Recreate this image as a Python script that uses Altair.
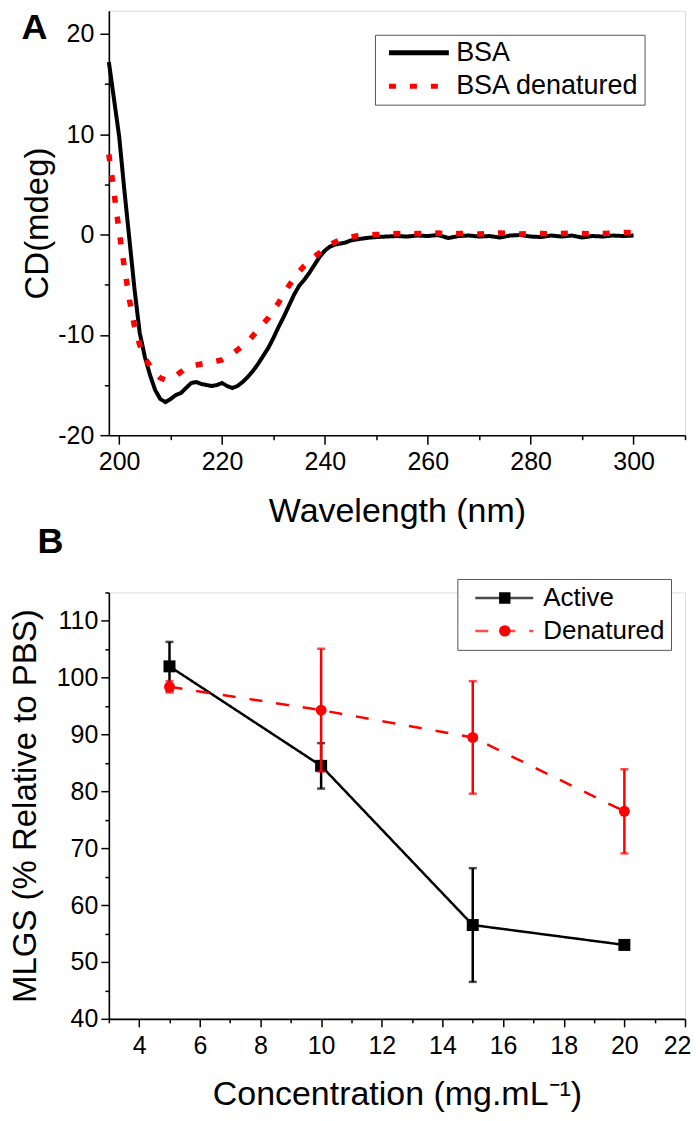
import altair as alt
import pandas as pd

FONT = "Liberation Sans"

# ---------------- Panel A : CD spectra ----------------
wavelength = list(range(198, 247)) + list(range(248, 301, 2))
cd_bsa = [
    17.2, 13.5, 9.8, 4.5, -0.5, -5.5, -9.8, -12.2, -14.0, -15.5,
    -16.4, -16.7, -16.4, -16.0, -15.8, -15.3, -14.8, -14.7, -14.9, -15.0,
    -15.1, -15.0, -14.8, -15.1, -15.3, -15.1, -14.7, -14.2, -13.6, -12.9,
    -12.1, -11.3, -10.3, -9.2, -8.2, -7.1, -6.0, -5.1, -4.5, -3.8,
    -3.0, -2.2, -1.6, -1.2, -1.0, -0.9, -0.8, -0.6, -0.5,
    -0.35, -0.25, -0.2, -0.15, -0.2, -0.1, -0.15, -0.05, -0.35, -0.15,
    -0.1, -0.2, -0.15, -0.3, -0.1, -0.05, -0.2, -0.25, -0.1, -0.2,
    -0.1, -0.3, -0.15, -0.2, -0.1, -0.15, -0.1,
]
cd_bsa_denatured = [
    8.0, 4.2, 0.3, -3.2, -6.5, -9.2, -11.0, -12.3, -13.1, -13.8,
    -14.3, -14.5, -14.4, -14.1, -13.7, -13.3, -13.1, -13.0, -12.9, -12.8,
    -12.7, -12.6, -12.5, -12.2, -11.9, -11.5, -11.1, -10.7, -10.1, -9.5,
    -8.9, -8.3, -7.5, -6.8, -5.9, -5.1, -4.4, -3.7, -3.1, -2.6,
    -2.2, -1.8, -1.4, -1.0, -0.75, -0.55, -0.4, -0.25, -0.15,
    -0.05, 0.0, 0.05, 0.1, 0.05, 0.1, 0.1, 0.15, 0.05, 0.1,
    0.1, 0.05, 0.1, 0.15, 0.1, 0.05, 0.1, 0.1, 0.05, 0.1,
    0.15, 0.1, 0.05, 0.1, 0.15, 0.2, 0.2,
]
series_a = ["BSA", "BSA denatured"]

# ---------------- Panel B : MLGS vs concentration ----------------
concentration = [5, 10, 15, 20]
active_mean = [102.0, 84.5, 56.5, 53.0]
active_err = [4.3, 4.0, 10.0, 0.6]
denatured_mean = [98.4, 94.3, 89.5, 76.5]
denatured_err = [1.0, 10.8, 9.9, 7.4]
series_b = ["Active", "Denatured"]
marker_b = ["Active marker", "Denatured marker"]

panel_labels = ["A", "B"]

cd_df = pd.DataFrame({
    "wavelength": wavelength * 2,
    "cd": cd_bsa + cd_bsa_denatured,
    "series": [series_a[0]] * len(wavelength) + [series_a[1]] * len(wavelength),
})

rows = []
for name, mk, means, errs in [
    (series_b[0], marker_b[0], active_mean, active_err),
    (series_b[1], marker_b[1], denatured_mean, denatured_err),
]:
    for c, m, e in zip(concentration, means, errs):
        rows.append({"conc": c, "mean": m, "lo": m - e, "hi": m + e,
                     "series": name, "marker": mk})
mlgs_df = pd.DataFrame(rows)


def tick_len(step, major, minor):
    return {"condition": {"test": f"datum.value % {step} !== 0", "value": minor},
            "value": major}


def label_every(step, upto=10000):
    return (f"(datum.value % {step} === 0 && datum.value <= {upto}) "
            f"? ('' + datum.value) : ''")


def panel_letter(letter, dx, dy):
    return alt.Chart(pd.DataFrame({"label": [letter]})).mark_text(
        font=FONT, fontSize=36, fontWeight="bold", color="black",
        align="left", baseline="top",
    ).encode(text="label:N", x=alt.value(dx), y=alt.value(dy))


common = dict(labelFont=FONT, labelFontSize=25, labelColor="black",
              titleFont=FONT, titleColor="black", titleFontWeight="normal",
              domainColor="black", domainWidth=1.6, tickColor="black",
              tickWidth=1.5, grid=False, labelOverlap=False)

# ---------- Panel A ----------
legend_a = alt.Legend(
    title=None, orient="none", legendX=266.5, legendY=24, direction="vertical",
    symbolType="stroke", symbolSize=3600, symbolStrokeWidth=5, clipHeight=26,
    rowPadding=6.5, padding=5, symbolOffset=6.5, labelOffset=4.8,
    labelFont=FONT, labelFontSize=27, labelColor="black", labelLimit=0,
    strokeColor="#555555", fillColor="white", cornerRadius=0,
)

x_a = alt.X("wavelength:Q",
            scale=alt.Scale(domain=[198, 310], nice=False, zero=False),
            axis=alt.Axis(values=list(range(200, 311, 10)),
                          labelExpr=label_every(20), labelFlush=False,
                          tickSize=tick_len(20, 9, 4.5), labelPadding=5.5,
                          title="Wavelength (nm)", titleFontSize=34,
                          titlePadding=20, **common))
y_a = alt.Y("cd:Q",
            scale=alt.Scale(domain=[-20, 22.3], nice=False, zero=False),
            axis=alt.Axis(values=list(range(-20, 21, 5)),
                          labelExpr=label_every(10), labelFlush=False,
                          tickSize=tick_len(10, 9, 4.5), labelPadding=6,
                          title="CD(mdeg)", titleFontSize=33, titlePadding=3,
                          **common))
color_a = alt.Color("series:N",
                    scale=alt.Scale(domain=series_a, range=["#000000", "#ff0000"]),
                    legend=legend_a)
dash_a = alt.StrokeDash("series:N",
                        scale=alt.Scale(domain=series_a, range=[[1, 0], [7, 14]]),
                        legend=legend_a)

base_a = alt.Chart(cd_df).encode(x=x_a, y=y_a, color=color_a, strokeDash=dash_a)
line_bsa = base_a.transform_filter(alt.datum.series == series_a[0]).mark_line(strokeWidth=4)
line_den = base_a.transform_filter(alt.datum.series == series_a[1]).mark_line(strokeWidth=5.5)

panel_a = alt.layer(line_bsa, line_den, panel_letter(panel_labels[0], -87.5, 0)).properties(
    width=577, height=425,
)

# ---------- Panel B ----------
legend_b1 = alt.Legend(
    title=None, orient="none", legendX=349, legendY=-13.5, direction="vertical",
    symbolType="stroke", symbolSize=3364, symbolStrokeWidth=2.5, clipHeight=26,
    rowPadding=7, padding=6, symbolOffset=10.5, labelOffset=8.5,
    labelFont=FONT, labelFontSize=26, labelColor="black", labelLimit=0,
    strokeColor="#555555", fillColor="white", cornerRadius=0, zindex=1,
)
legend_b2 = alt.Legend(
    title=None, orient="none", legendX=377.5, legendY=-13.5, direction="vertical",
    symbolSize=130, symbolStrokeWidth=0, clipHeight=26, rowPadding=7,
    padding=6, symbolOffset=0, labelExpr="''", labelFont=FONT,
    labelFontSize=26, zindex=2,
)

x_b = alt.X("conc:Q",
            scale=alt.Scale(domain=[3, 22], nice=False, zero=False),
            axis=alt.Axis(values=list(range(3, 23)),
                          labelExpr=label_every(2),
                          labelFlush=True, labelFlushOffset=6,
                          tickSize=tick_len(2, 8, 4), labelPadding=6.5,
                          title="Concentration (mg.mL\u207b\u00b9)", titleFontSize=34,
                          titlePadding=19, **common))
y_scale_b = alt.Scale(domain=[40, 115], nice=False, zero=False)
y_axis_b = alt.Axis(values=list(range(40, 116, 5)),
                    labelExpr=label_every(10, 110), labelFlush=False,
                    tickSize=tick_len(10, 8, 4), labelPadding=3,
                    title="MLGS (% Relative to PBS)", titleFontSize=33,
                    titlePadding=13.8, **common)
color_b = alt.Color("series:N",
                    scale=alt.Scale(domain=series_b, range=["#000000", "#ff0000"]),
                    legend=legend_b1)
dash_b = alt.StrokeDash("series:N",
                        scale=alt.Scale(domain=series_b, range=[[1, 0], [13, 14]]),
                        legend=legend_b1)
fill_b = alt.Fill("marker:N",
                  scale=alt.Scale(domain=marker_b, range=["#000000", "#ff0000"]),
                  legend=legend_b2)
shape_b = alt.Shape("marker:N",
                    scale=alt.Scale(domain=marker_b, range=["square", "circle"]),
                    legend=legend_b2)

base_b = alt.Chart(mlgs_df)


def series_layers(name, size):
    sub = base_b.transform_filter(alt.datum.series == name)
    rule = sub.mark_rule(strokeWidth=2.5).encode(
        x=x_b, y=alt.Y("lo:Q", scale=y_scale_b, axis=y_axis_b), y2="hi:Q",
        color=color_b)
    cap_lo = sub.mark_tick(orient="horizontal", size=8, thickness=2.5).encode(
        x=x_b, y=alt.Y("lo:Q", scale=y_scale_b, axis=y_axis_b), color=color_b)
    cap_hi = sub.mark_tick(orient="horizontal", size=8, thickness=2.5).encode(
        x=x_b, y=alt.Y("hi:Q", scale=y_scale_b, axis=y_axis_b), color=color_b)
    line = sub.mark_line(strokeWidth=2.5).encode(
        x=x_b, y=alt.Y("mean:Q", scale=y_scale_b, axis=y_axis_b),
        color=color_b, strokeDash=dash_b)
    pts = sub.mark_point(filled=True, opacity=1, size=size).encode(
        x=x_b, y=alt.Y("mean:Q", scale=y_scale_b, axis=y_axis_b),
        fill=fill_b, shape=shape_b)
    return [rule, cap_lo, cap_hi, line, pts]


panel_b = alt.layer(
    *(series_layers(series_b[0], 144) + series_layers(series_b[1], 120)),
    panel_letter(panel_labels[1], -71.5, -67.2),
).properties(width=577, height=427)

chart = alt.vconcat(panel_a, panel_b, spacing=157.5, bounds="flush").resolve_scale(
    color="independent", strokeDash="independent", fill="independent",
    shape="independent", x="independent", y="independent",
).resolve_legend(
    color="independent", strokeDash="independent", fill="independent",
    shape="independent",
).properties(
    padding={"left": 0, "top": 0, "right": 0, "bottom": 0}, background="white"
).configure_view(stroke=None).configure(font=FONT)

chart.save("out.html", embed_options={"renderer": "svg", "actions": False})
